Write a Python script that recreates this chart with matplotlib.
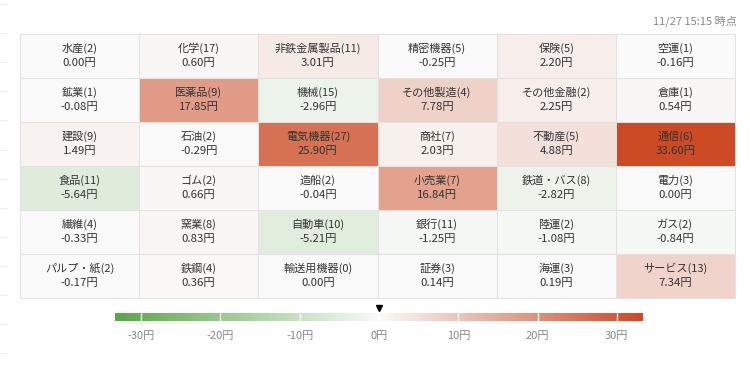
import numpy as np
import matplotlib.pyplot as plt
from matplotlib.colors import LinearSegmentedColormap, Normalize

plt.rcParams['font.family'] = ['Noto Sans CJK JP', 'DejaVu Sans']

# セクター別データ (6列 x 6行, 行優先)
sectors = ['水産', '化学', '非鉄金属製品', '精密機器', '保険', '空運',
           '鉱業', '医薬品', '機械', 'その他製造', 'その他金融', '倉庫',
           '建設', '石油', '電気機器', '商社', '不動産', '通信',
           '食品', 'ゴム', '造船', '小売業', '鉄道・バス', '電力',
           '繊維', '窯業', '自動車', '銀行', '陸運', 'ガス',
           'パルプ・紙', '鉄鋼', '輸送用機器', '証券', '海運', 'サービス']
counts = [2, 17, 11, 5, 5, 1,
          1, 9, 15, 4, 2, 1,
          9, 2, 27, 7, 5, 6,
          11, 2, 2, 7, 8, 3,
          4, 8, 10, 11, 2, 2,
          2, 4, 0, 3, 3, 13]
values = [0.00, 0.60, 3.01, -0.25, 2.20, -0.16,
          -0.08, 17.85, -2.96, 7.78, 2.25, 0.54,
          1.49, -0.29, 25.90, 2.03, 4.88, 33.60,
          -5.64, 0.66, -0.04, 16.84, -2.82, 0.00,
          -0.33, 0.83, -5.21, -1.25, -1.08, -0.84,
          -0.17, 0.36, 0.00, 0.14, 0.19, 7.34]
ncols = 6
bar_ticks = [-30, -20, -10, 0, 10, 20, 30]
marker_value = 0
timestamp = '11/27 15:15 時点'

vmax = 33.3
cmap = LinearSegmentedColormap.from_list('gr', ['#5aa846', '#fafafa', '#cc4a24'])
norm = Normalize(-vmax, vmax)

W, H = 750, 376
fig = plt.figure(figsize=(W / 100, H / 100), dpi=100)


def px_axes(x0, y0, x1, y1, **kw):
    return fig.add_axes([x0 / W, 1 - y1 / H, (x1 - x0) / W, (y1 - y0) / H], **kw)


# 左端の薄い目盛り
bg = px_axes(0, 0, W, H, zorder=0)
bg.set_xlim(0, W)
bg.set_ylim(H, 0)
bg.axis('off')
bg.hlines(4 + 29.1 * np.arange(13), 0, 7, color='#e2e2e2', lw=0.7, linestyles=(0, (1.5, 1)))

# ヒートマップ
ax = px_axes(20, 34, 735, 298)
grid = np.array(values).reshape(-1, ncols)
nrows = grid.shape[0]
ax.pcolormesh(grid, cmap=cmap, norm=norm, edgecolors='none')
ax.hlines(np.arange(nrows + 1), 0, ncols, color='#e2e2e2', lw=0.75, clip_on=False)
ax.vlines(np.arange(ncols + 1), 0, nrows, color='#e2e2e2', lw=0.75, clip_on=False)
ax.set_xlim(0, ncols)
ax.set_ylim(nrows, 0)
ax.axis('off')

for i, (name, n, v) in enumerate(zip(sectors, counts, values)):
    r, c = divmod(i, ncols)
    ax.text(c + 0.5, r + 0.5 - 0.18, f'{name}({n})', ha='center', va='center',
            fontsize=8, color='#333333')
    ax.text(c + 0.5, r + 0.5 + 0.17, f'{v:.2f}円', ha='center', va='center',
            fontsize=8.2, color='#333333')

fig.text(737 / W, 1 - 21 / H, timestamp, ha='right', va='center', fontsize=8, color='#888888')

# カラーバー
cax = px_axes(115, 313, 643, 321)
grad = np.linspace(-vmax, vmax, 400).reshape(1, -1)
cax.imshow(grad, cmap=cmap, norm=norm, aspect='auto', extent=[-vmax, vmax, 0, 1])
cax.vlines(bar_ticks, 0, 1, color='white', lw=1)
cax.set_xlim(-vmax, vmax)
cax.set_ylim(0, 1)
cax.set_yticks([])
cax.set_xticks(bar_ticks)
cax.set_xticklabels([f'{t}円' for t in bar_ticks])
cax.tick_params(axis='x', length=0, pad=7, labelsize=8, labelcolor='#888888')
for s in cax.spines.values():
    s.set_visible(False)
cax.plot(marker_value, 1.65, marker='v', color='black', ms=5, clip_on=False)

fig.savefig('out.png', dpi=100)
